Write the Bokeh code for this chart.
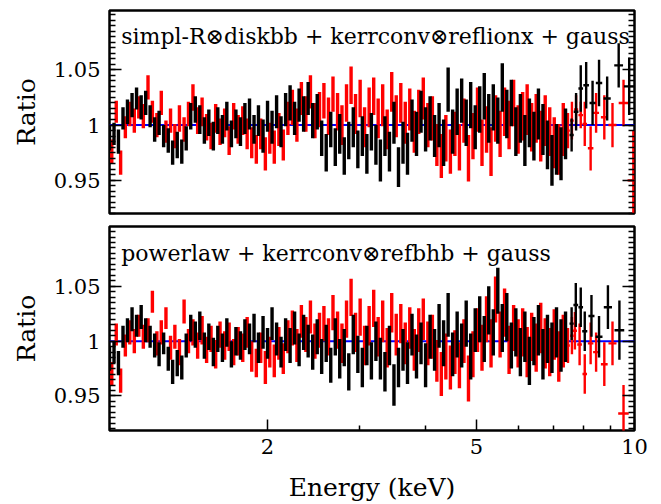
import numpy as np
from bokeh.plotting import figure
from bokeh.layouts import column
from bokeh.models import (ColumnDataSource, FixedTicker, LinearAxis, Span, Label,
                          CustomJSTickFormatter, CustomLabelingPolicy)
from bokeh.embed import file_html
from bokeh.resources import INLINE

# ---------------- data ----------------
panel_labels = ["simpl-R\u2297diskbb + kerrconv\u2297reflionx + gauss",
                "powerlaw + kerrconv\u2297refbhb + gauss"]
x_ticks = [2, 5, 10]
x_minor = [3, 4, 6, 7, 8, 9]
y_ticks = [0.95, 1.0, 1.05]

# dense bins (keV)
E_black = [1.000,1.020,1.040,1.061,1.082,1.104,1.126,1.149,1.172,1.195,
           1.219,1.243,1.268,1.294,1.319,1.346,1.373,1.400,1.428,1.457,
           1.486,1.516,1.546,1.577,1.608,1.641,1.673,1.707,1.741,1.776,
           1.811,1.848,1.885,1.922,1.961,2.000,2.040,2.081,2.122,2.165,
           2.208,2.252,2.297,2.343,2.390,2.438,2.487,2.536,2.587,2.639,
           2.692,2.745,2.800,2.856,2.913,2.972,3.031,3.092,3.154,3.217,
           3.281,3.347,3.414,3.482,3.552,3.623,3.695,3.769,3.844,3.921,
           4.000,4.080,4.161,4.244,4.329,4.416,4.504,4.594,4.686,4.780,
           4.875,4.973,5.072,5.174,5.277,5.383,5.491,5.600,5.712,5.827,
           5.943,6.062,6.183,6.307,6.433,6.562,6.693,6.827,6.963,7.103,
           7.245,7.390]
E_red = [1.010,1.030,1.050,1.072,1.093,1.115,1.137,1.160,1.184,1.207,
         1.231,1.255,1.281,1.307,1.332,1.359,1.387,1.414,1.442,1.472,
         1.501,1.531,1.561,1.593,1.624,1.657,1.690,1.724,1.758,1.794,
         1.829,1.866,1.904,1.941,1.981,2.020,2.060,2.102,2.143,2.187,
         2.230,2.275,2.320,2.366,2.414,2.462,2.512,2.561,2.613,2.665,
         2.719,2.772,2.828,2.885,2.942,3.002,3.061,3.123,3.186,3.249,
         3.314,3.380,3.448,3.517,3.588,3.659,3.732,3.807,3.882,3.960,
         4.040,4.121,4.203,4.286,4.372,4.460,4.549,4.640,4.733,4.828,
         4.924,5.023,5.123,5.226,5.330,5.437,5.546,5.656,5.769,5.885,
         6.002,6.123,6.245,6.370,6.497,6.628,6.760,6.895,7.033,7.174,
         7.317]
err_dense = [0.011,0.010,0.011,0.010,0.011,0.011,0.010,0.011,0.011,0.010,
             0.011,0.011,0.010,0.011,0.011,0.012,0.011,0.011,
             0.012,0.012,0.013,0.012,0.012,0.013,0.012,0.013,0.013,0.012,
             0.013,0.013,0.014,
             0.014,0.013,0.014,0.015,0.014,0.015,0.015,0.014,0.015,0.016,
             0.015,0.015,0.016,0.015,0.016,0.016,
             0.016,0.017,0.016,0.017,0.018,0.017,0.017,0.018,0.017,0.018,
             0.018,0.017,0.018,0.019,0.018,0.018,0.019,0.018,0.019,0.019,
             0.019,0.020,0.019,0.020,0.020,0.019,0.020,0.021,0.020,0.020,
             0.021,0.020,0.021,0.021,0.020,0.021,0.021,0.022,0.021,
             0.021,0.022,0.022,0.021,0.022,0.022,0.023,0.022,0.022,0.023,
             0.023,0.022,0.023,0.023,0.024,0.023]

# top panel ratios
top_black = [0.988,0.992,0.985,1.006,1.012,1.018,1.024,1.016,1.020,1.008,
             0.996,1.002,0.990,0.986,0.975,0.982,0.976,0.988,1.008,1.014,
             1.005,0.995,1.002,0.990,1.004,0.996,1.008,0.992,1.001,0.994,
             1.006,1.010,0.996,1.004,0.990,1.008,0.998,1.012,0.994,1.014,
             1.020,1.006,1.018,1.010,1.024,1.004,1.012,0.988,0.975,0.996,
             0.980,0.992,0.972,0.986,0.998,0.978,0.990,0.974,0.994,0.982,
             0.968,0.990,0.976,1.002,0.962,0.984,0.974,1.004,0.992,1.012,
             0.996,1.006,0.990,1.000,0.984,1.032,0.994,1.012,1.022,1.002,
             1.018,0.998,1.014,1.026,1.006,1.016,1.004,1.034,1.010,1.020,
             0.994,1.006,0.986,1.002,0.990,1.010,0.996,0.982,0.968,0.978,
             0.974,0.992]
top_red = [0.976,1.012,0.966,0.998,1.010,1.004,1.016,1.008,1.034,1.012,
           1.000,1.020,0.994,1.004,0.990,1.006,0.996,1.010,1.025,1.004,
           1.012,0.998,0.990,1.006,0.994,1.002,0.986,1.008,0.996,1.004,
           0.992,0.984,0.978,0.992,0.974,0.988,0.980,0.996,0.982,1.006,
           1.016,1.000,1.024,1.010,1.030,1.004,1.014,1.022,1.008,1.028,
           1.012,1.000,1.020,1.036,1.010,1.024,0.998,1.016,1.026,1.006,
           1.018,0.996,1.030,1.008,1.020,1.002,1.014,0.994,1.012,1.024,
           1.000,1.006,0.982,0.972,0.988,0.976,0.992,0.980,1.004,0.970,
           0.990,1.014,0.984,0.996,0.976,1.006,0.992,1.012,1.000,1.020,
           0.996,1.008,1.014,0.998,1.006,0.990,1.004,0.994,0.984,0.978,
           0.996]
# bottom panel ratios
bot_black = [0.984,0.990,0.980,1.004,1.010,1.020,1.014,1.022,1.010,1.004,
             0.996,0.988,0.998,0.984,0.972,0.980,0.976,0.996,1.012,1.006,
             1.014,0.996,1.004,0.990,1.002,0.994,1.008,0.988,1.000,0.996,
             1.006,1.002,1.012,0.994,1.008,0.998,1.016,1.002,0.990,1.006,
             0.996,1.012,0.992,1.008,1.000,0.990,1.004,0.986,0.998,0.978,
             1.004,0.984,0.994,0.972,1.006,0.988,0.976,0.996,0.982,1.000,
             0.984,0.972,0.996,0.960,0.976,0.992,0.980,1.006,0.986,0.998,
             0.978,1.004,0.992,1.014,0.998,1.024,0.988,1.006,0.996,1.016,
             0.986,1.010,1.020,1.002,1.028,1.008,1.046,1.012,1.022,0.996,
             1.008,0.990,1.004,0.982,1.000,1.010,0.988,1.002,0.994,1.008,
             0.996,1.004]
bot_red = [0.970,1.006,0.964,0.996,1.008,1.000,1.014,1.004,1.010,1.036,
           0.998,1.008,1.021,0.994,1.004,0.990,1.027,1.000,1.008,0.996,
           1.010,0.992,1.002,0.988,1.006,0.996,1.004,0.990,1.000,0.994,
           1.008,0.986,0.980,0.994,0.976,0.990,0.982,0.998,0.984,1.004,
           1.012,0.996,1.018,1.006,1.022,1.000,1.010,1.016,1.004,1.026,
           1.010,0.998,1.020,1.040,1.008,1.022,0.996,1.014,1.030,1.004,
           1.018,0.994,1.026,1.006,1.016,0.998,1.012,0.992,1.010,1.020,
           0.998,1.004,0.982,0.970,0.986,0.976,0.990,0.978,1.000,0.966,
           0.988,1.010,0.994,1.020,0.998,1.038,1.006,1.026,0.992,1.012,
           0.998,1.008,0.990,1.004,0.994,1.012,0.998,0.990,1.006,0.986,
           1.000]

# sparse high-energy bins: energy, half-width, ratio, error
top_black_sp_E = [7.59, 7.74, 7.90, 8.09, 8.32, 8.56, 8.87, 9.33, 9.77]
top_black_sp_dE = [0.07, 0.08, 0.08, 0.10, 0.11, 0.12, 0.14, 0.18, 0.22]
top_black_sp_R = [0.991, 1.012, 1.033, 1.036, 1.020, 1.038, 1.024, 1.054, 1.035]
top_black_sp_err = [0.015, 0.017, 0.021, 0.021, 0.020, 0.021, 0.020, 0.020, 0.026]
top_red_sp_E = [7.47, 7.60, 7.74, 7.90, 8.04, 8.25, 8.45, 8.76, 9.08, 9.53, 9.95]
top_red_sp_dE = [0.06, 0.06, 0.07, 0.08, 0.08, 0.10, 0.11, 0.13, 0.16, 0.20, 0.25]
top_red_sp_R = [0.995, 1.004, 1.014, 1.009, 1.001, 0.979, 1.011, 1.007, 1.000, 1.020, 0.950]
top_red_sp_err = [0.016, 0.017, 0.013, 0.012, 0.020, 0.020, 0.018, 0.020, 0.020, 0.021, 0.045]

bot_black_sp_E = [7.59, 7.73, 7.90, 8.04, 8.28, 8.56, 8.90, 9.36]
bot_black_sp_dE = [0.07, 0.08, 0.08, 0.09, 0.11, 0.13, 0.16, 0.20]
bot_black_sp_R = [1.016, 1.033, 1.031, 1.009, 1.023, 1.004, 1.031, 1.010]
bot_black_sp_err = [0.015, 0.020, 0.018, 0.018, 0.019, 0.019, 0.020, 0.027]
bot_red_sp_E = [7.47, 7.60, 7.70, 7.86, 8.04, 8.25, 8.45, 8.76, 9.08, 9.53]
bot_red_sp_dE = [0.06, 0.06, 0.07, 0.08, 0.08, 0.10, 0.11, 0.13, 0.16, 0.22]
bot_red_sp_R = [0.996, 1.005, 1.0095, 0.997, 0.970, 0.998, 0.990, 0.979, 0.998, 0.934]
bot_red_sp_err = [0.016, 0.017, 0.017, 0.019, 0.018, 0.019, 0.018, 0.020, 0.020, 0.026]

FONT = "DejaVu Serif"


def add_dense(p, E, R, err, color):
    E = np.asarray(E); R = np.asarray(R); err = np.asarray(err)
    src = ColumnDataSource(dict(x=E, y0=R - err, y1=R + err))
    p.segment(x0="x", y0="y0", x1="x", y1="y1", source=src,
              line_color=color, line_width=3.4)


def add_sparse(p, E, dE, R, err, color):
    E = np.asarray(E); dE = np.asarray(dE); R = np.asarray(R); err = np.asarray(err)
    src = ColumnDataSource(dict(x=E, y=R, y0=R - err, y1=R + err,
                                xl=E - dE, xh=E + dE))
    p.segment(x0="x", y0="y0", x1="x", y1="y1", source=src,
              line_color=color, line_width=2.4)
    p.segment(x0="xl", y0="y", x1="xh", y1="y", source=src,
              line_color=color, line_width=2.4)


def make_panel(label, yr, bk, rd, bk_sp, rd_sp, bottom):
    kw = dict(width=658, x_axis_type="log", x_range=(1, 10), y_range=yr,
              output_backend="svg", toolbar_location=None, title=None,
              min_border_left=109, min_border_right=14)
    if bottom:
        kw.update(height=285, min_border_top=7, min_border_bottom=72)
    else:
        kw.update(height=219, min_border_top=10, min_border_bottom=6)
    p = figure(**kw)
    p.background_fill_color = "white"
    p.border_fill_color = "white"
    p.outline_line_color = "black"
    p.outline_line_width = 2.5
    p.xgrid.visible = False
    p.ygrid.visible = False

    span = Span(location=1.0, dimension="width", line_color="#0000ff",
                line_width=2, level="underlay")
    p.add_layout(span)

    add_dense(p, E_red, rd, err_dense[:len(E_red)], "#ff0000")
    add_sparse(p, *rd_sp, "#ff0000")
    add_dense(p, E_black, bk, err_dense, "black")
    add_sparse(p, *bk_sp, "black")

    minor = [round(v, 3) for v in np.arange(0.915, 1.1051, 0.005)]
    yfmt = CustomJSTickFormatter(code="return String(Math.round(tick*100)/100);")
    ax = p.yaxis[0]
    ax.ticker = FixedTicker(ticks=y_ticks, minor_ticks=minor)
    ax.formatter = yfmt
    ax.axis_line_color = None
    ax.major_tick_in = 12; ax.major_tick_out = 0
    ax.minor_tick_in = 6; ax.minor_tick_out = 0
    ax.major_tick_line_width = 1.5; ax.minor_tick_line_width = 1.5
    ax.major_tick_line_color = "black"; ax.minor_tick_line_color = "black"
    ax.major_label_text_font = FONT
    ax.major_label_text_font_size = "21px"
    ax.major_label_text_color = "black"
    ax.major_label_standoff = 9
    ax.axis_label = "Ratio"
    ax.axis_label_text_font = FONT
    ax.axis_label_text_font_size = "25px"
    ax.axis_label_text_font_style = "normal"
    ax.axis_label_text_color = "black"
    ax.axis_label_standoff = 10

    no_labels = CustomLabelingPolicy(
        code="for (const i of indices) indices.unset(i); return indices;")
    rax = LinearAxis(ticker=FixedTicker(ticks=y_ticks, minor_ticks=minor),
                     axis_line_color=None, major_tick_in=12, major_tick_out=0,
                     minor_tick_in=6, minor_tick_out=0,
                     major_tick_line_width=1.5, minor_tick_line_width=1.5,
                     major_label_policy=no_labels, major_label_standoff=0)
    p.add_layout(rax, "right")

    xa = p.xaxis[0]
    if bottom:
        xa.ticker = FixedTicker(ticks=x_ticks, minor_ticks=x_minor)
        xa.formatter = CustomJSTickFormatter(code="return String(tick);")
        xa.axis_line_color = None
        xa.major_tick_in = 11; xa.major_tick_out = 0
        xa.minor_tick_in = 5; xa.minor_tick_out = 0
        xa.major_tick_line_width = 1.5; xa.minor_tick_line_width = 1.5
        xa.major_label_text_font = FONT
        xa.major_label_text_font_size = "21px"
        xa.major_label_text_color = "black"
        xa.major_label_standoff = 8
        xa.axis_label = "Energy (keV)"
        xa.axis_label_text_font = FONT
        xa.axis_label_text_font_size = "25px"
        xa.axis_label_text_font_style = "normal"
        xa.axis_label_text_color = "black"
        xa.axis_label_standoff = 16
    else:
        xa.visible = False

    lab = Label(x=1.053, y=1.080, text=label, text_font=FONT,
                text_font_size="22px", text_baseline="alphabetic",
                text_color="black")
    p.add_layout(lab)
    return p


p1 = make_panel(panel_labels[0], (0.920, 1.1036), top_black, top_red,
                (top_black_sp_E, top_black_sp_dE, top_black_sp_R, top_black_sp_err),
                (top_red_sp_E, top_red_sp_dE, top_red_sp_R, top_red_sp_err), False)
p2 = make_panel(panel_labels[1], (0.9185, 1.1046), bot_black, bot_red,
                (bot_black_sp_E, bot_black_sp_dE, bot_black_sp_R, bot_black_sp_err),
                (bot_red_sp_E, bot_red_sp_dE, bot_red_sp_R, bot_red_sp_err), True)

layout = column(p1, p2, spacing=0)
open("out.html", "w").write(file_html(layout, INLINE))
